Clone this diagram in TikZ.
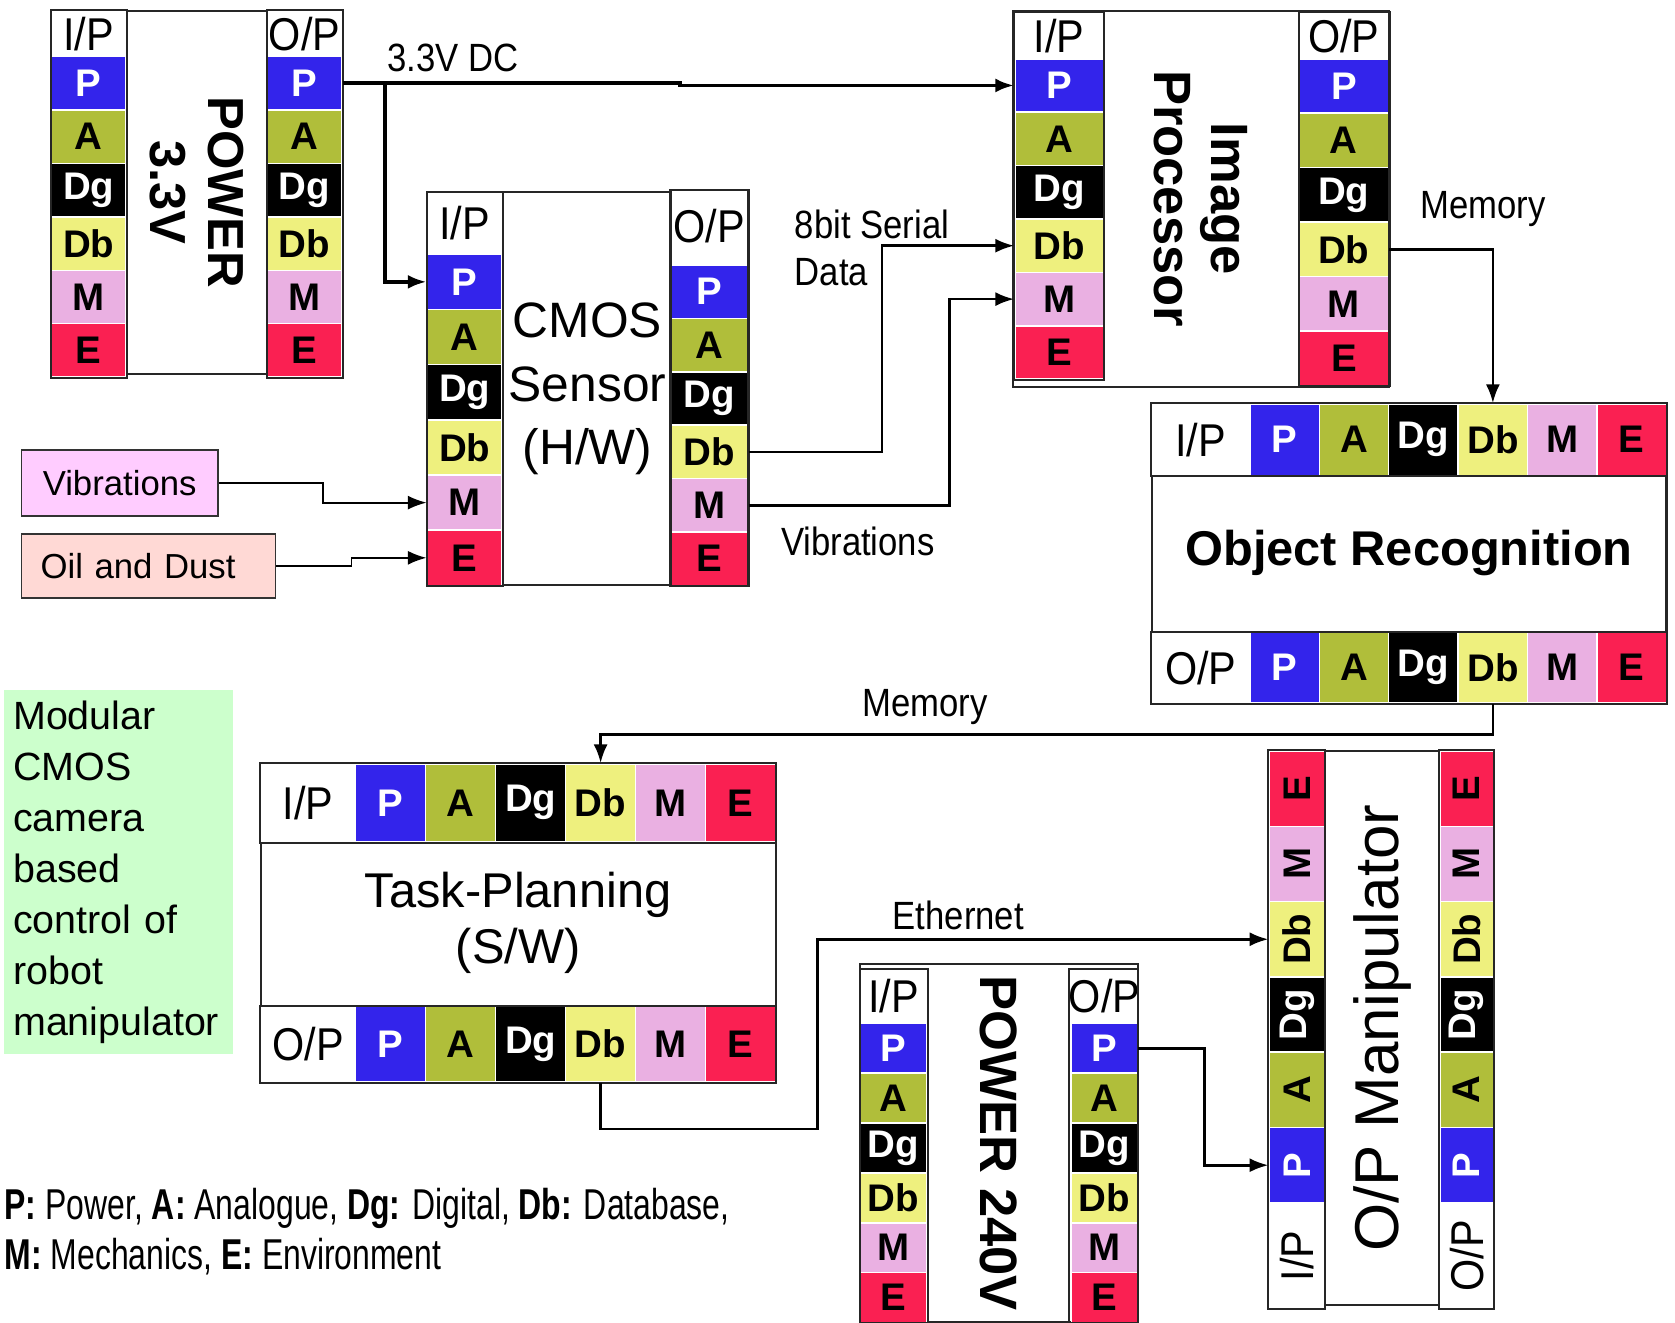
\documentclass[tikz,border=0pt]{standalone}
\usepackage{fontspec}
\setmainfont{Liberation Sans}
\newfontfamily\narrowfont{Liberation Sans}[FakeStretch=0.88]
\newfontfamily\hdrfont{Liberation Sans}[FakeStretch=0.9]
\newfontfamily\legendfont{Liberation Sans}[FakeStretch=0.74]
\usetikzlibrary{arrows.meta,positioning,calc}

\definecolor{cP}{RGB}{51,36,235}
\definecolor{cA}{RGB}{176,190,58}
\definecolor{cDg}{RGB}{0,0,0}
\definecolor{cDb}{RGB}{238,240,126}
\definecolor{cM}{RGB}{234,176,226}
\definecolor{cE}{RGB}{250,32,82}
\definecolor{vibfill}{RGB}{255,204,255}
\definecolor{oilfill}{RGB}{255,217,213}
\definecolor{notefill}{RGB}{204,255,204}

\def\pxu{0.02cm}

% port column: name, x centre, y top, width, cell height
\newcommand{\vports}[5]{%
  \foreach \lab/\bg/\fg [count=\k from 0] in {P/cP/white,A/cA/black,Dg/cDg/white,Db/cDb/black,M/cM/black,E/cE/black}
    \node[cell,fill=\bg,text=\fg,minimum width=#4*\pxu,minimum height=#5*\pxu] (#1-\lab) at (#2,{#3+(\k+.5)*#5}) {\lab};}
% port row: name, x left, y centre, cell width, height
\newcommand{\hports}[5]{%
  \foreach \lab/\bg/\fg [count=\k from 0] in {P/cP/white,A/cA/black,Dg/cDg/white,Db/cDb/black,M/cM/black,E/cE/black}
    \node[cell,fill=\bg,text=\fg,minimum width=#4*\pxu,minimum height=#5*\pxu] (#1-\lab) at ({#2+(\k+.5)*#4},#3) {\lab};}
% turned port column: name, x centre, y bottom, width, cell height
\newcommand{\rports}[5]{%
  \foreach \lab/\bg/\fg [count=\k from 0] in {P/cP/white,A/cA/black,Dg/cDg/white,Db/cDb/black,M/cM/black,E/cE/black}
    \node[cell,rotate=90,fill=\bg,text=\fg,minimum width=#5*\pxu,minimum height=#4*\pxu] (#1-\lab) at (#2,{#3-(\k+.5)*#5}) {\lab};}

\begin{document}
\begin{tikzpicture}[
    x=0.02cm,y=-0.02cm,
    cell/.style={draw=white,line width=.8pt,inner sep=0pt,font=\fontsize{20.5}{24}\selectfont\bfseries},
    hdr/.style={fill=white,inner sep=0pt,font=\hdrfont\fontsize{24.5}{28}\selectfont},
    blockbox/.style={draw=black!85,line width=1.1pt,fill=white,inner sep=0pt},
    colframe/.style={draw=black!85,line width=1.1pt},
    src/.style={draw=black!80,line width=.9pt,inner sep=0pt,font=\fontsize{18.5}{22}\selectfont},
    note/.style={fill=notefill,align=left,inner xsep=9*\pxu,text width=197*\pxu,
        minimum height=340*\pxu,font=\fontsize{21}{27.2}\selectfont},
    lbl/.style={font=\narrowfont\fontsize{21}{25}\selectfont,inner sep=1pt},
    flow/.style={-{Latex[length=10pt,width=7.5pt]},line width=1.4pt},
    thickflow/.style={flow,line width=2pt},
    thinflow/.style={flow,line width=1pt}]
\useasboundingbox (0,0) rectangle (1568,1238);

% POWER 3.3V
\node[blockbox,rotate=-90,minimum width=340*\pxu,minimum height=132*\pxu,
    font=\fontsize{27}{31}\selectfont\bfseries,align=center] (pw3) at (184,180) {POWER\\3.3V};
\node[hdr,minimum width=70*\pxu,minimum height=43*\pxu] (pw3-ih) at (83,31.5) {I/P};
\vports{pw3-i}{83}{53}{70}{50}
\draw[colframe] (pw3-ih.north west) rectangle (pw3-i-E.south east);
\node[hdr,minimum width=70*\pxu,minimum height=43*\pxu] (pw3-oh) at (285,31.5) {O/P};
\vports{pw3-o}{285}{53}{70}{50}
\draw[colframe] (pw3-oh.north west) rectangle (pw3-o-E.south east);

% CMOS sensor
\node[blockbox,minimum width=300*\pxu,minimum height=368*\pxu,
    font=\fontsize{26.5}{34}\selectfont,align=center] (cm) at (550,364) {CMOS\\Sensor\\(H/W)};
\node[hdr,minimum width=70*\pxu,minimum height=58*\pxu] (cm-ih) at (435,209) {I/P};
\vports{cm-i}{435}{238}{70}{51.67}
\draw[colframe] (cm-ih.north west) rectangle (cm-i-E.south east);
\node[hdr,minimum width=72*\pxu,minimum height=68*\pxu] (cm-oh) at (664,212) {O/P};
\vports{cm-o}{664}{248}{72}{50}
\draw[colframe] (cm-oh.north west) rectangle (cm-o-E.south east);

\node[src,fill=vibfill,minimum width=184*\pxu,minimum height=62*\pxu] (vib) at (112,452) {Vibrations};
\node[src,fill=oilfill,minimum height=60*\pxu,inner xsep=18*\pxu,text width=202*\pxu,align=left] (oil) at (139,530) {Oil and Dust};

% image processor
\node[blockbox,rotate=-90,minimum width=352*\pxu,minimum height=352*\pxu,
    font=\fontsize{28}{30}\selectfont\bfseries,align=center] (ip) at (1124,186) {Image\\Processor};
\node[hdr,minimum width=83*\pxu,minimum height=43*\pxu] (ip-ih) at (991.5,33.5) {I/P};
\vports{ip-i}{991.5}{55}{83}{50}
\draw[colframe] (ip-ih.north west) rectangle (ip-i-E.south east);
\node[hdr,minimum width=84*\pxu,minimum height=43*\pxu] (ip-oh) at (1258,33.5) {O/P};
\vports{ip-o}{1258}{55}{84}{51}
\draw[colframe] (ip-oh.north west) rectangle (ip-o-E.south east);

% object recognition
\node[blockbox,minimum width=482*\pxu,minimum height=280*\pxu,
    font=\fontsize{26}{30}\selectfont\bfseries] (or) at (1319,518) {Object Recognition};
\node[hdr,minimum width=92*\pxu,minimum height=67*\pxu] (or-ih) at (1124,411.5) {I/P};
\hports{or-i}{1170}{411.5}{65}{67}
\draw[colframe] (or-ih.north west) rectangle (or-i-E.south east);
\node[hdr,minimum width=92*\pxu,minimum height=66*\pxu] (or-oh) at (1124,625) {O/P};
\hports{or-o}{1170}{625}{65}{66}
\draw[colframe] (or-oh.north west) rectangle (or-o-E.south east);

% task planning
\node[blockbox,minimum width=482*\pxu,minimum height=298*\pxu,
    font=\fontsize{26}{30}\selectfont,align=center] (tp) at (485,864) {Task-Planning\\(S/W)};
\node[hdr,minimum width=89*\pxu,minimum height=73*\pxu] (tp-ih) at (288.5,751.5) {I/P};
\hports{tp-i}{333}{751.5}{65.5}{73}
\draw[colframe] (tp-ih.north west) rectangle (tp-i-E.south east);
\node[hdr,minimum width=89*\pxu,minimum height=71*\pxu] (tp-oh) at (288.5,977.5) {O/P};
\hports{tp-o}{333}{977.5}{65.5}{71}
\draw[colframe] (tp-oh.north west) rectangle (tp-o-E.south east);

% POWER 240V
\node[blockbox,rotate=-90,minimum width=336*\pxu,minimum height=260*\pxu,
    font=\fontsize{28}{30}\selectfont\bfseries] (pw240) at (935,1070) {POWER 240V};
\node[hdr,minimum width=63*\pxu,minimum height=51*\pxu] (pw240-ih) at (836.5,932.5) {I/P};
\vports{pw240-i}{836.5}{958}{63}{46.67}
\draw[colframe] (pw240-ih.north west) rectangle (pw240-i-E.south east);
\node[hdr,minimum width=62*\pxu,minimum height=51*\pxu] (pw240-oh) at (1034,932.5) {O/P};
\vports{pw240-o}{1034}{958}{62}{46.67}
\draw[colframe] (pw240-oh.north west) rectangle (pw240-o-E.south east);

% manipulator
\node[blockbox,rotate=90,minimum width=519*\pxu,minimum height=108*\pxu,
    font=\fontsize{33}{36}\selectfont] (mp) at (1294,962.5) {O/P Manipulator};
\node[hdr,rotate=90,minimum width=99*\pxu,minimum height=52*\pxu] (mp-ih) at (1214,1175.5) {I/P};
\rports{mp-i}{1214}{1126}{52}{70.5}
\draw[colframe] (mp-ih.south west) rectangle (mp-i-E.north east);
\node[hdr,rotate=90,minimum width=99*\pxu,minimum height=50*\pxu] (mp-oh) at (1373,1175.5) {O/P};
\rports{mp-o}{1373}{1126}{50}{70.5}
\draw[colframe] (mp-oh.south west) rectangle (mp-o-E.north east);

\node[note,anchor=north west] (note) at (3,646) {Modular\\CMOS\\camera\\based\\control of\\robot\\manipulator};
\node[anchor=west,align=left,inner sep=0pt,font=\legendfont\fontsize{23}{26.6}\selectfont] (key) at (4,1153)
    {\textbf{P:} Power, \textbf{A:} Analogue, \textbf{Dg:} Digital, \textbf{Db:} Database,\\
     \textbf{M:} Mechanics, \textbf{E:} Environment};

% connectors
\coordinate (jog3) at ($(pw3-o-P.east)+(316,0)$);
\coordinate (tap3) at ($(pw3-o-P.east)+(40,0)$);
\draw[thickflow] (pw3-o-P.east) -- (jog3) |- (ip-i-P.west);
\draw[thickflow] (tap3) |- (cm-i-P.west);
\draw[thinflow] (vib.east) -| ($(vib.east)!.5!(cm-i-M.west)$) |- (cm-i-M.west);
\draw[thinflow] (oil.east) -| ($(oil.east)!.5!(cm-i-E.west)$) |- (cm-i-E.west);
\draw[flow] (cm-o-Db.east) -- ++(125,0) |- (ip-i-Db.west);
\draw[flow] (cm-o-M.east) -- ++(188,0) |- (ip-i-M.west);
\draw[flow] (ip-o-Db.east) -| (or-i-Db.north);
\draw[flow] (or-o-Db.south) -- ++(0,29) -| (tp-i-Db.north);
\coordinate (eth) at (765,1057);
\draw[flow] (tp-o-Db.south) |- (eth) |- (mp-i-Db.north);
\draw[flow] (pw240-o-P.east) -- ++(62,0) |- (mp-i-P.north);

\node[lbl] (lbl-dc) at (424,54) {3.3V DC};
\node[lbl,align=left,anchor=west] (lbl-serial) at (742,232) {8bit Serial\\Data};
\node[lbl] (lbl-vib) at (803,507) {Vibrations};
\node[lbl] (lbl-mem1) at (1388,196) {Memory};
\node[lbl] (lbl-mem2) at (866,662) {Memory};
\node[lbl] (lbl-eth) at (897,857) {Ethernet};
\end{tikzpicture}
\end{document}
